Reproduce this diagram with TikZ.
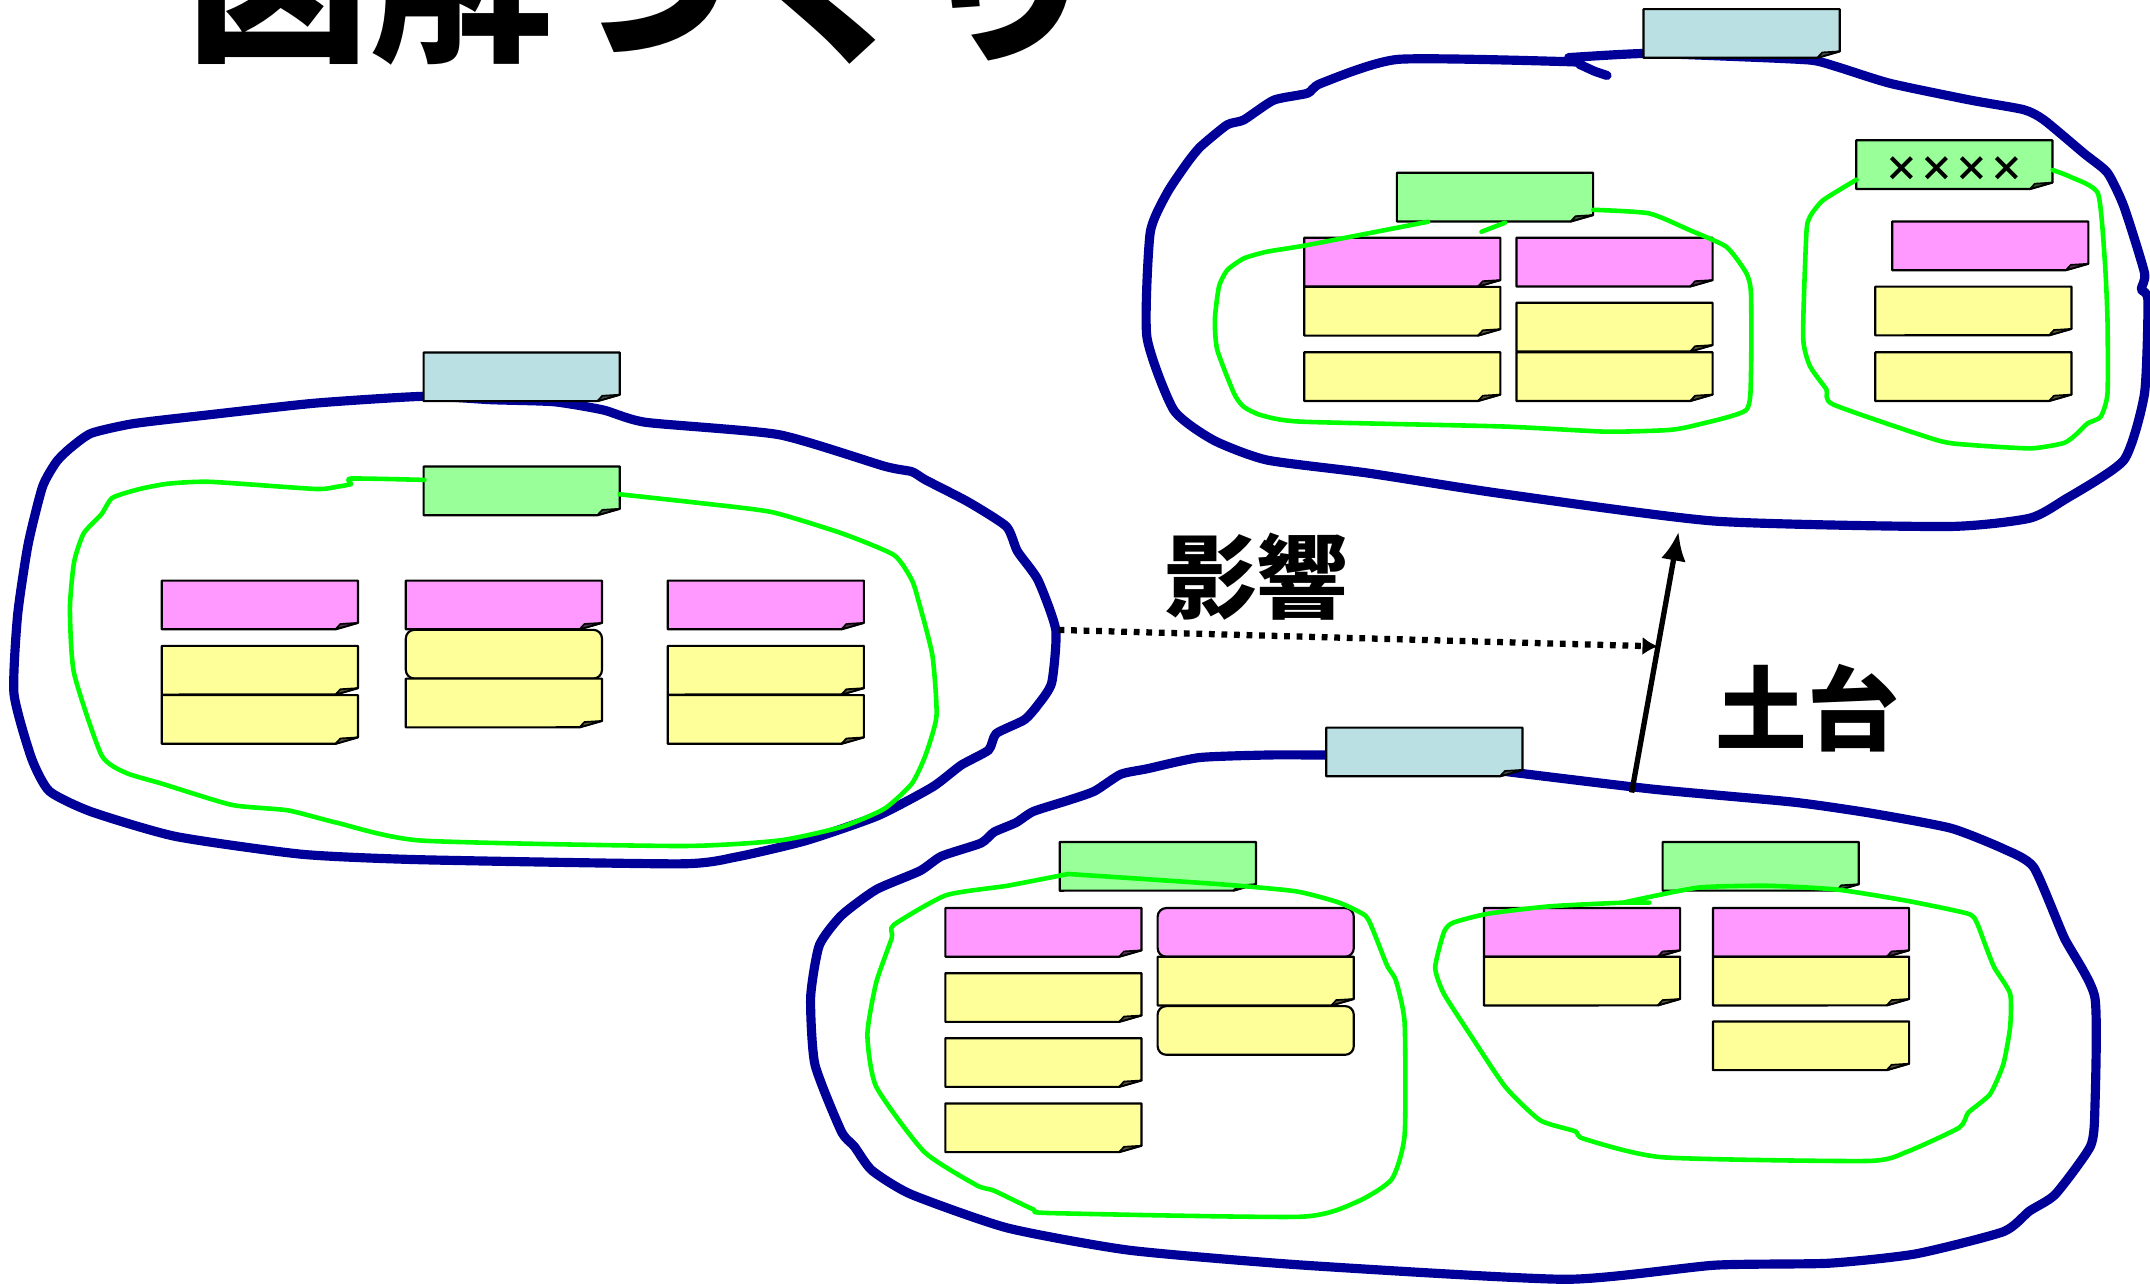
\documentclass[tikz,border=0pt]{standalone}
\usepackage{fontspec}
\newfontfamily\jp{Noto Sans CJK JP}
\usepackage{tikz}
\usetikzlibrary{calc}
\usetikzlibrary{arrows.meta}

\definecolor{ringblue}{RGB}{0,0,153}
\definecolor{ringgreen}{RGB}{0,255,0}
\definecolor{tagblue}{RGB}{187,224,227}
\definecolor{taggreen}{RGB}{153,255,153}
\definecolor{tagpink}{RGB}{255,153,255}
\definecolor{tagyellow}{RGB}{255,255,153}

\tikzset{
  fuda/.style={minimum width=1.43cm, minimum height=0.355cm, inner sep=0pt, outer sep=0pt},
  rfuda/.style={fuda, draw=black, line width=0.45pt, rounded corners=1.8pt, fill=#1},
  bigring/.style={draw=ringblue, line width=1.9pt, line join=round, line cap=round},
  smallring/.style={draw=ringgreen, line width=0.95pt, line join=round, line cap=round},
  kanji/.style={anchor=base west, inner sep=0pt, font=\jp\bfseries\fontsize{19pt}{19pt}\selectfont},
}

% sticky note with its lower right corner turned up
\newcommand{\fuda}[4]{%
  \node[fuda] (#1) at (#2,#3) {};
  \draw[line width=0.45pt, line join=round, fill=#4] (#1.north west) -- (#1.north east) -- ++(0,30.8) -- ++(-16.4,4.7) -- (#1.south west) -- cycle;
  \draw[line width=0.35pt, line join=round, fill=#4!35!black] (#1.south east) ++(0,-4.7) -- ++(-12.8,0.8) -- ++(-3.6,3.9) -- cycle;
}

\begin{document}
\begin{tikzpicture}[x=0.01cm, y=-0.01cm]
  \useasboundingbox (0,0) rectangle (1568,936);
  \clip (0,0) rectangle (1568,936);

  % title, cut at the top edge
  \node[anchor=base west, inner sep=0pt, font=\jp\bfseries\fontsize{38pt}{38pt}\selectfont] (title) at (135,35) {図解づくり};

  % big blue rings
  \draw[bigring] plot[smooth cycle, tension=0.35] coordinates {(309.5,289) (230,294) (148,303) (97,309) (66.5,316) (51,327) (41,337) (31,355) (20.5,397) (12.8,449) (10.2,506) (23,553) (36,577) (66.5,592) (128,610) (220,623) (307,627) (496,630) (537,625) (588,613) (640,595) (680,574) (701,558) (721,547) (726.5,535) (747,525) (757,514) (767,498) (770,459.5) (757,423) (742,402) (734,384) (706,366) (675,350) (665,344) (645,340) (568,317) (471,308) (440,299) (404,293) (358,291.5)};
  \draw[bigring] plot[smooth, tension=0.35] coordinates {(1172,55) (1163,52) (1152,47) (1144,45) (1019.5,43.3) (963.4,60.8) (953.6,68) (929,73) (907,87.5) (895,91) (875.5,107) (865.7,119) (851,141) (838.8,170) (836.4,245.5) (856,299) (885,321) (924,335.5) (997.5,345) (1095,360) (1250,380) (1420,384) (1480,378) (1505.4,364.6) (1549,335.5) (1564,287) (1566.5,219) (1561.6,211) (1564,199) (1549,150.7) (1537,126) (1520,112) (1490.7,87.5) (1476,80) (1437,73) (1378.5,60.8) (1339.4,48.6) (1320,43.8) (1260,41) (1199,39) (1144,42)};
  \draw[bigring] plot[smooth, tension=0.35] coordinates {(1000,550) (967,550.6) (925.7,550.6) (874.7,552.5) (836.5,560.7) (817.3,564.7) (798.2,577) (779.1,583.7) (753.6,591.8) (740.9,600) (725,606.8) (715.4,614.9) (686.7,624.4) (670.8,635.2) (639,648.8) (613.5,667.8) (597.5,689.5) (591.2,727.4) (594.3,776.2) (613.5,825) (623,836) (635.8,853.5) (664.4,871) (734.5,895.5) (823.7,911.8) (951,922.7) (1142,933) (1250.6,922.7) (1333.5,921.3) (1397,914.5) (1461,898.3) (1480,883.3) (1499,871) (1524.6,835.9) (1527.8,808.8) (1527.8,727.4) (1505.5,684) (1483.2,632.5) (1461,619) (1422.7,604) (1365.3,593.2) (1308,585) (1206,575.6) (1104,563.4) (1080,560)};

  % left group
  \fuda{Lblue}{380.5}{274.8}{tagblue}
  \fuda{Lgreen}{380.5}{358}{taggreen}
  \fuda{Lp1}{189.5}{441.2}{tagpink}
  \fuda{Lp2}{367.5}{441.2}{tagpink}
  \fuda{Lp3}{558.5}{441.2}{tagpink}
  \fuda{Ly11}{189.5}{488.8}{tagyellow}
  \fuda{Ly12}{189.5}{524.7}{tagyellow}
  \node[rfuda=tagyellow] (Ly21) at (367.5,477.1) {};
  \fuda{Ly22}{367.5}{512.7}{tagyellow}
  \fuda{Ly31}{558.5}{488.8}{tagyellow}
  \fuda{Ly32}{558.5}{524.7}{tagyellow}

  % upper right group
  \fuda{Tblue}{1270.2}{24.4}{tagblue}
  \fuda{Tgreen}{1090.3}{143.8}{taggreen}
  \fuda{Txx}{1425.3}{120.1}{taggreen}
  \node (xmarks) at (1425.3,123.3) {\jp\bfseries\fontsize{7.2pt}{7.2pt}\selectfont ××××};
  \fuda{Tp1}{1022.7}{191.2}{tagpink}
  \fuda{Tp2}{1177.5}{191.2}{tagpink}
  \fuda{Ty11}{1022.7}{227}{tagyellow}
  \fuda{Ty12}{1022.7}{274.7}{tagyellow}
  \fuda{Ty21}{1177.5}{238.6}{tagyellow}
  \fuda{Ty22}{1177.5}{274.7}{tagyellow}
  \fuda{Tp3}{1451.5}{179.3}{tagpink}
  \fuda{Ty31}{1439.2}{226.8}{tagyellow}
  \fuda{Ty32}{1439.2}{274.7}{tagyellow}

  % lower right group
  \fuda{Bblue}{1038.8}{548.4}{tagblue}
  \fuda{Bg1}{844.4}{631.8}{taggreen}
  \fuda{Bg2}{1284.1}{631.8}{taggreen}
  \fuda{Bp1}{761}{680}{tagpink}
  \node[rfuda=tagpink] (Bp2) at (915.8,680) {};
  \fuda{By11}{761}{727.5}{tagyellow}
  \fuda{By12}{761}{774.9}{tagyellow}
  \fuda{By13}{761}{822.5}{tagyellow}
  \fuda{By21}{915.8}{715.5}{tagyellow}
  \node[rfuda=tagyellow] (By22) at (915.8,751.5) {};
  \fuda{Bp3}{1153.8}{680}{tagpink}
  \fuda{By31}{1153.8}{715.5}{tagyellow}
  \fuda{Bp4}{1320.8}{680}{tagpink}
  \fuda{By41}{1320.8}{715.5}{tagyellow}
  \fuda{By42}{1320.8}{762.7}{tagyellow}

  % green rings
  \draw[smallring] plot[smooth, tension=0.35] coordinates {(309.5,350) (256,349) (256,353) (245.6,355) (230,356.6) (153.5,351.4) (123,352.7) (102,356.6) (82,363) (74,375) (61,389) (54,410) (51,444) (54,491) (74,550.7) (92,563.7) (118,571.5) (169,587) (210,591) (245.6,600) (307,613) (496,617) (568,613) (614,603) (645,589.8) (665,571.5) (675,550.7) (683,522) (680,478) (670,438.7) (665,423) (652,404.8) (614,389) (563,373.5) (511.6,367) (452,360.5)};
  \draw[smallring] plot[smooth, tension=0.35] coordinates {(1041.5,161.7) (953.6,178.7) (924.3,183.5) (907.2,188.4) (895,197) (889,209) (886,233) (887.7,255) (900,287) (907,296.6) (919.4,302.7) (948.7,307.5) (1095,311) (1171,314.8) (1217,313.6) (1237,310) (1273.5,299) (1277,272) (1277,214) (1273.5,199) (1259,180) (1232,167.7) (1202.6,155.6) (1162,153)};
  \draw[smallring] (1080.5,169) -- (1097.6,162.4);
  \draw[smallring] plot[smooth, tension=0.35] coordinates {(1354,131) (1329.6,146) (1320,158) (1317.4,170) (1315,245.5) (1320,267) (1332,284) (1337,295) (1412.6,321) (1437,324.5) (1481,327) (1505.4,323) (1515,316) (1522.5,308.7) (1532,304) (1537,287) (1537,233) (1535,189.6) (1530,141) (1510,129) (1497,124)};
  \draw[smallring] plot[smooth, tension=0.35] coordinates {(779,637.4) (887.5,644.7) (944.8,650) (976.6,658.3) (995.8,667.8) (1002,680) (1011.7,704.4) (1018,715) (1024.4,746) (1024.4,827.7) (1015,860) (989.4,876.6) (948,887.4) (766.4,884.7) (753.6,882) (725,868.4) (712.2,864.4) (674,840) (639,792.5) (632.6,754.5) (639,716.6) (650.4,684) (651.7,674.6) (690,652.9) (734.5,646) (779,637.4)};
  \draw[smallring] plot[smooth, tension=0.35] coordinates {(1202.8,658.3) (1183.7,658.3) (1130,661) (1085,666.4) (1059.5,673) (1053,680) (1046.7,705.7) (1053,724.7) (1072.2,754.5) (1097.7,792.5) (1123.2,817) (1148.7,825) (1155,830.5) (1212.4,844) (1362.2,846.7) (1390.8,840) (1429,822.3) (1435.4,811.5) (1451.3,798) (1461,776.2) (1466,749) (1466,724.7) (1454.5,705.7) (1448,689.5) (1441.8,673.2) (1435.4,666.4) (1391,657) (1340,648.8) (1289,646) (1238,647.4) (1183.7,658.3)};

  % connectors
  \coordinate (Lside) at (772,459.4);
  \coordinate (Bfoot) at (1190,578);
  \coordinate (Tbase) at (1224.2,387.7);
  \draw[line width=1.1pt, -{Latex[length=6pt,width=5.2pt]}] (Bfoot) -- (Tbase);
  \draw[line width=1.3pt, dash pattern=on 1.2pt off 1.4pt, -{Latex[length=3.2pt,width=3.8pt]}] (Lside) -- ($(Bfoot)!0.56!(Tbase)$);

  \node[kanji] (eikyo) at (849,445.8) {影響};
  \node[kanji] (dodai) at (1250.5,542.5) {土台};
\end{tikzpicture}
\end{document}
